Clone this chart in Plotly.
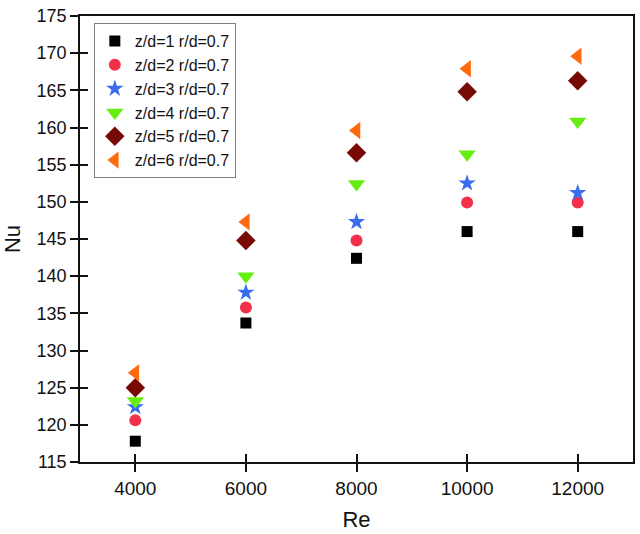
import plotly.graph_objects as go

re_vals = [4000, 6000, 8000, 10000, 12000]

nu_zd1 = [117.8, 133.7, 142.4, 146.0, 146.0]
nu_zd2 = [120.6, 135.8, 144.8, 149.9, 149.9]
nu_zd3 = [122.4, 137.8, 147.3, 152.5, 151.2]
nu_zd4 = [123.2, 140.0, 152.4, 156.4, 160.8]
nu_zd5 = [125.0, 144.8, 156.6, 164.8, 166.3]
nu_zd6 = [127.0, 147.3, 159.6, 167.9, 169.6]

names = ['z/d=1 r/d=0.7', 'z/d=2 r/d=0.7', 'z/d=3 r/d=0.7',
         'z/d=4 r/d=0.7', 'z/d=5 r/d=0.7', 'z/d=6 r/d=0.7']
series = [nu_zd1, nu_zd2, nu_zd3, nu_zd4, nu_zd5, nu_zd6]
symbols = ['square', 'circle', 'star', 'triangle-down', 'diamond', 'triangle-left']
colors = ['#000000', '#f3304a', '#3a6cf0', '#66ee10', '#780a06', '#ff6a10']
sizes = [11, 12, 13, 15, 15, 15]

xticks = [4000, 6000, 8000, 10000, 12000]
xlabels = ['4000', '6000', '8000', '10000', '12000']
yticks = list(range(115, 176, 5))

FONT = 'Liberation Sans, Arial, sans-serif'

fig = go.Figure()
for name, ys, sym, col, sz in zip(names, series, symbols, colors, sizes):
    fig.add_trace(go.Scatter(x=re_vals, y=ys, mode='markers', name=name,
                             marker=dict(symbol=sym, color=col, size=sz, line=dict(width=0))))

# dummy trace so the overlay axes (inner half of the crossing ticks) get drawn
fig.add_trace(go.Scatter(x=[None], y=[None], xaxis='x2', yaxis='y2', showlegend=False))

fig.update_layout(
    width=640, height=534,
    margin=dict(l=80, r=7, t=16, b=72, autoexpand=False),
    plot_bgcolor='white', paper_bgcolor='white',
    font=dict(family=FONT, color='#111111', size=18),
    showlegend=True,
    legend=dict(x=0.025, y=0.984, xanchor='left', yanchor='top',
                bordercolor='#808080', borderwidth=1, bgcolor='white',
                font=dict(size=16), tracegroupgap=0, itemwidth=30),
    xaxis=dict(range=[3000, 13000], tickvals=xticks, ticktext=xlabels,
               ticks='outside', ticklen=8, automargin=False, tickfont=dict(size=19),
               tickwidth=1.5, tickcolor='#111', showline=True, linecolor='#111',
               linewidth=1.5, mirror=True, showgrid=False, zeroline=False,
               title=dict(text='Re', font=dict(size=22), standoff=14)),
    yaxis=dict(range=[115, 175], tickvals=yticks, ticks='outside', ticklen=8,
               automargin=False,
               tickwidth=1.5, tickcolor='#111', showline=True, linecolor='#111',
               linewidth=1.5, mirror=True, showgrid=False, zeroline=False,
               title=dict(text='Nu', font=dict(size=22), standoff=10)),
    xaxis2=dict(overlaying='x', anchor='y2', side='bottom', range=[3000, 13000],
                tickvals=xticks, ticks='inside', ticklen=8, tickwidth=1.5,
                tickcolor='#111', showticklabels=False, showgrid=False,
                zeroline=False, showline=False, automargin=False),
    yaxis2=dict(overlaying='y', anchor='x2', side='left', range=[115, 175],
                tickvals=yticks, ticks='inside', ticklen=8, tickwidth=1.5,
                tickcolor='#111', showticklabels=False, showgrid=False,
                zeroline=False, showline=False, automargin=False),
)

# the page's default body margin would shift the figure by 8px
fig.write_html("out.html", config={'displayModeBar': False},
               post_script="document.body.style.margin='0';")
